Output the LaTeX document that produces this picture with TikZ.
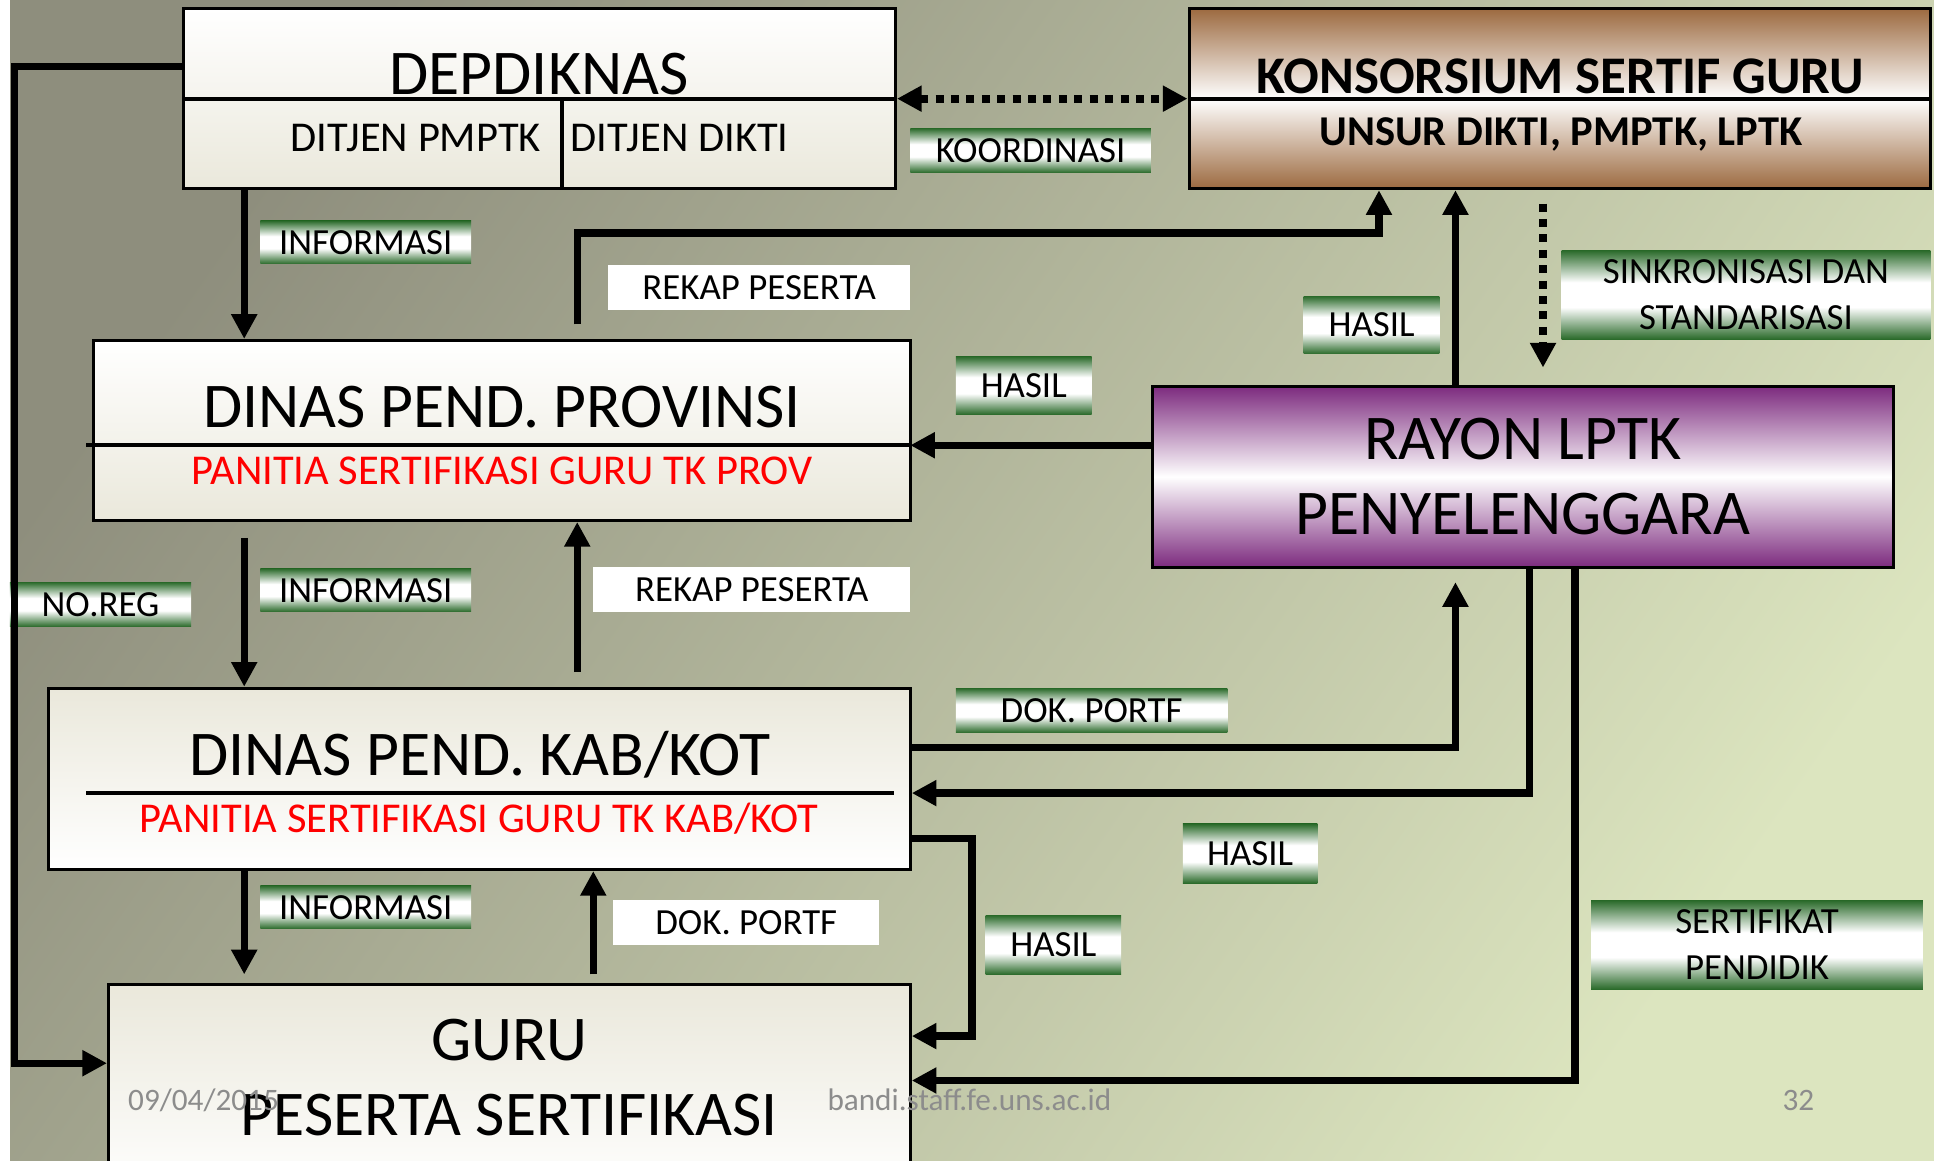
\documentclass[tikz,border=0pt]{standalone}
\usepackage{fontspec}
\setmainfont{Carlito}
\usepackage{tikz}
\usetikzlibrary{positioning, calc, arrows.meta}
\definecolor{bgdark}{HTML}{8E8E7D}
\definecolor{bglight}{HTML}{DCE5BF}
\definecolor{beige}{HTML}{EAE8DB}
\definecolor{lblgreen}{HTML}{2A6A2A}
\definecolor{konsbrown}{HTML}{9C6A40}
\definecolor{rayonpurple}{HTML}{7C2A7E}
\definecolor{panitiared}{HTML}{FF0000}
\definecolor{footgray}{HTML}{8C8C8C}
\newcommand{\titlefont}{\fontsize{14.7}{17.4}\selectfont}
\newcommand{\konsfont}{\bfseries\fontsize{12.2}{14}\selectfont}
\newcommand{\subfont}{\fontsize{9.8}{11.8}\selectfont}
\newcommand{\lblfont}{\fontsize{8.5}{10.5}\selectfont}
\newcommand{\footfont}{\fontsize{7.2}{8.6}\selectfont}
% green band, white in the middle
\pgfdeclareverticalshading{lblshade}{100bp}{color(0bp)=(lblgreen); color(25bp)=(lblgreen);
  color(43bp)=(white); color(57bp)=(white); color(75bp)=(lblgreen); color(100bp)=(lblgreen)}

\begin{document}
\begin{tikzpicture}[
  >={Triangle[length=0.2cm,width=0.2cm]},
  box/.style={draw=black, line width=0.7pt, inner sep=0pt},
  lightbox/.style={box, top color=white, bottom color=beige},
  lightboxup/.style={box, top color=beige, bottom color=white},
  greenlbl/.style={shade, shading=lblshade, inner sep=0pt, font=\lblfont, align=center},
  whitelbl/.style={fill=white, inner sep=0pt, font=\lblfont},
  arr/.style={->, line width=1.7pt},
  dotarr/.style={line width=1.8pt, dash pattern=on 0.065cm off 0.06cm},
  divider/.style={line width=0.9pt}
]
% background
\useasboundingbox (0,0) rectangle (15.68,9.41);
\clip (0,0) rectangle (15.68,9.41);
\shade[left color=bgdark, right color=bglight, shading angle=55] (0,0) rectangle (15.68,9.41);
\fill[white] (0,0) rectangle (0.08,9.41);

% boxes
\node[lightbox, minimum width=5.77cm, minimum height=1.46cm] (depdiknas) at (4.375,8.61) {};
\draw[divider] (depdiknas.west) -- (depdiknas.east);
\draw[divider] (4.56,8.61) -- (4.56,7.88);
\node[anchor=base, font=\titlefont] (depdiknastxt) at (4.37,8.64) {DEPDIKNAS};
\node[anchor=base, font=\subfont] (pmptk) at (3.37,8.18) {DITJEN PMPTK};
\node[anchor=base, font=\subfont] (dikti) at (5.51,8.18) {DITJEN DIKTI};

\node[box, top color=konsbrown, bottom color=konsbrown, middle color=white,
  minimum width=6.01cm, minimum height=1.46cm] (konsorsium) at (12.645,8.61) {};
\draw[divider] (konsorsium.west) -- (konsorsium.east);
\node[anchor=base, font=\konsfont] (konstxt) at (12.65,8.65) {KONSORSIUM SERTIF GURU};
\node[anchor=base, font=\bfseries\subfont] (unsur) at (12.655,8.23) {UNSUR DIKTI, PMPTK, LPTK};

\node[lightbox, minimum width=6.62cm, minimum height=1.46cm] (prov) at (4.07,5.92) {};
\coordinate (provsplit) at (7.38,5.80);
\draw[divider] (0.70,5.80) -- (provsplit);
\node[anchor=base, font=\titlefont] (provtxt) at (4.07,5.94) {DINAS PEND. PROVINSI};
\node[anchor=base, font=\subfont, text=panitiared] (provpanitia) at (4.07,5.48) {PANITIA SERTIFIKASI GURU TK PROV};

\node[box, top color=rayonpurple, bottom color=rayonpurple, middle color=white,
  minimum width=6.01cm, minimum height=1.47cm, align=center, font=\titlefont] (rayon) at (12.345,5.545)
  {RAYON LPTK\\PENYELENGGARA};

\node[lightboxup, minimum width=6.99cm, minimum height=1.47cm] (kab) at (3.885,3.095) {};
\draw[divider] (0.70,2.98) -- (7.25,2.98);
\node[anchor=base, font=\titlefont] (kabtxt) at (3.89,3.12) {DINAS PEND. KAB/KOT};
\node[anchor=base, font=\subfont, text=panitiared] (kabpanitia) at (3.885,2.66) {PANITIA SERTIFIKASI GURU TK KAB/KOT};

\node[lightboxup, minimum width=6.50cm, minimum height=1.73cm] (guru) at (4.13,0.565) {};
\node[anchor=base, font=\titlefont] (gurutxt) at (4.13,0.81) {GURU};
\node[anchor=base, font=\titlefont] (pesertatxt) at (4.13,0.20) {PESERTA SERTIFIKASI};

% labels
\node[greenlbl, minimum width=1.95cm, minimum height=0.36cm] (koord) at (8.355,8.19) {KOORDINASI};
\node[greenlbl, minimum width=1.71cm, minimum height=0.35cm] (info1) at (2.965,7.445) {INFORMASI};
\node[greenlbl, minimum width=1.71cm, minimum height=0.35cm] (info2) at (2.965,4.625) {INFORMASI};
\node[greenlbl, minimum width=1.71cm, minimum height=0.35cm] (info3) at (2.965,2.055) {INFORMASI};
\node[whitelbl, minimum width=2.45cm, minimum height=0.36cm] (rekap1) at (6.155,7.08) {REKAP PESERTA};
\node[whitelbl, minimum width=2.57cm, minimum height=0.36cm] (rekap2) at (6.095,4.63) {REKAP PESERTA};
\node[greenlbl, minimum width=1.10cm, minimum height=0.47cm] (hasil1) at (11.12,6.775) {HASIL};
\node[greenlbl, minimum width=1.10cm, minimum height=0.47cm] (hasil2) at (8.30,6.285) {HASIL};
\node[greenlbl, minimum width=1.09cm, minimum height=0.48cm] (hasil3) at (10.135,2.49) {HASIL};
\node[greenlbl, minimum width=1.10cm, minimum height=0.48cm] (hasil4) at (8.54,1.75) {HASIL};
\node[greenlbl, minimum width=2.99cm, minimum height=0.72cm] (sinkron) at (14.155,7.02) {SINKRONISASI DAN\\STANDARISASI};
\node[greenlbl, minimum width=2.69cm, minimum height=0.72cm] (sertifikat) at (14.245,1.75) {SERTIFIKAT\\PENDIDIK};
\node[greenlbl, minimum width=1.47cm, minimum height=0.36cm] (noreg) at (0.815,4.51) {NO.REG};
\node[greenlbl, minimum width=2.20cm, minimum height=0.36cm] (dok1) at (8.85,3.65) {DOK. PORTF};
\node[whitelbl, minimum width=2.16cm, minimum height=0.36cm] (dok2) at (6.05,1.93) {DOK. PORTF};

% arrows
\coordinate (colA) at (1.98,0);
\coordinate (colE) at (11.80,0);
\draw[arr] (depdiknas.south -| colA) -- (prov.north -| colA);
\coordinate (infoBtop) at (1.98,5.05);
\draw[arr] (infoBtop) -- (kab.north -| infoBtop);
\coordinate (infoCtip) at (1.98,1.51);
\draw[arr] (kab.south -| infoCtip) -- (infoCtip);

\coordinate (rekapAstart) at (4.68,6.78);
\coordinate (turnA) at (11.18,7.52);
\draw[arr] (rekapAstart) |- (turnA) -- (konsorsium.south -| turnA);
\coordinate (rekapBstart) at (4.68,3.96);
\draw[arr] (rekapBstart) -- (prov.south -| rekapBstart);
\coordinate (dokAstart) at (4.81,1.51);
\draw[arr] (dokAstart) -- (kab.south -| dokAstart);

\draw[dotarr, <->] (depdiknas.east) -- (konsorsium.west);
\coordinate (syncA) at (12.51,7.76);
\coordinate (syncB) at (12.51,6.43);
\draw[dotarr, ->] (syncA) -- (syncB);

\draw[arr] (rayon.north -| colE) -- (konsorsium.south -| colE);
\draw[arr] (rayon.west |- provsplit) -- (provsplit);

\coordinate (dokBturn) at (11.80,3.35);
\coordinate (dokBtip) at (11.80,4.69);
\draw[arr] (kab.east |- dokBturn) -| (dokBtip);
\coordinate (hasilCturn) at (12.40,2.98);
\draw[arr] (rayon.south -| hasilCturn) |- (kab.east |- hasilCturn);
\coordinate (loopTop) at (7.88,2.61);
\coordinate (loopBot) at (7.88,1.01);
\draw[arr] (kab.east |- loopTop) -| (loopBot) -- (guru.east |- loopBot);
\coordinate (certTurn) at (12.77,0.65);
\draw[arr] (rayon.south -| certTurn) |- (guru.east |- certTurn);

\coordinate (regTop) at (0.12,8.87);
\coordinate (regBot) at (0.12,0.79);
\draw[arr] (depdiknas.west |- regTop) -- (regTop) -- (regBot) -- (guru.west |- regBot);

% footer
\node[anchor=base, font=\footfont, text=footgray] (date) at (1.65,0.41) {09/04/2015};
\node[anchor=base, font=\footfont, text=footgray] (site) at (7.86,0.41) {bandi.staff.fe.uns.ac.id};
\node[anchor=base, font=\footfont, text=footgray] (pagenum) at (14.58,0.41) {32};
\end{tikzpicture}
\end{document}
